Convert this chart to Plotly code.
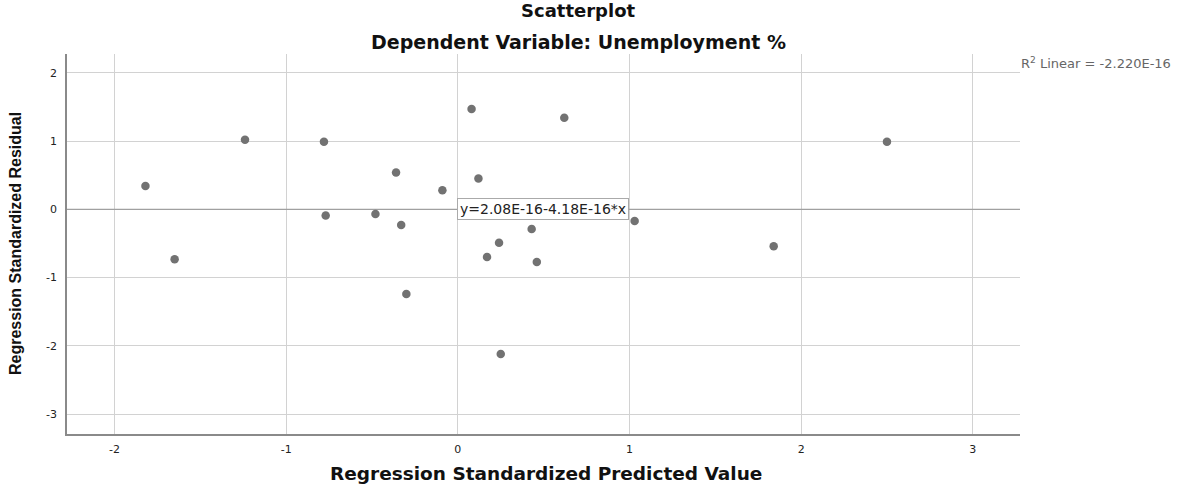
import plotly.graph_objects as go

# Regression standardized predicted values (x) and residuals (y)
predicted = [-1.82, -1.65, -1.24, -0.78, -0.77, -0.48, -0.36, -0.33, -0.30, -0.09,
             0.08, 0.12, 0.24, 0.17, 0.25, 0.43, 0.46, 0.62, 1.03, 1.84, 2.50]
residual = [0.34, -0.73, 1.02, 0.99, -0.09, -0.07, 0.54, -0.23, -1.24, 0.28,
            1.47, 0.45, -0.49, -0.70, -2.12, -0.29, -0.77, 1.34, -0.17, -0.54, 0.99]

fit_intercept = 2.08e-16
fit_slope = -4.18e-16
x_range = [-2.277, 3.275]
y_range = [-3.29, 2.274]
x_ticks = [-2, -1, 0, 1, 2, 3]
y_ticks = [-3, -2, -1, 0, 1, 2]

title1 = "Scatterplot"
title2 = "Dependent Variable: Unemployment %"
x_title = "Regression Standardized Predicted Value"
y_title = "Regression Standardized Residual"
eq_label = "y=2.08E-16-4.18E-16*x"
r2_label = "R<sup>2</sup> Linear = -2.220E-16"

fit_x = [x_range[0], x_range[1]]
fit_y = [fit_intercept + fit_slope * v for v in fit_x]

fig = go.Figure()
fig.add_trace(go.Scatter(x=fit_x, y=fit_y, mode="lines",
                         line=dict(color="#a0a0a0", width=1.3),
                         hoverinfo="skip", showlegend=False))
fig.add_trace(go.Scatter(x=predicted, y=residual, mode="markers",
                         marker=dict(color="#727272", size=8.5, line=dict(width=0)),
                         showlegend=False))

W, H = 1178, 488
ml, mr, mt, mb = 67, 158, 54, 54

fig.update_layout(
    width=W, height=H,
    margin=dict(l=ml, r=mr, t=mt, b=mb),
    plot_bgcolor="white", paper_bgcolor="white",
    font=dict(family="DejaVu Sans, Arial", color="#222222"),
    showlegend=False,
)
fig.update_xaxes(range=x_range, tickvals=x_ticks, ticktext=[str(v) for v in x_ticks],
                 showgrid=True, gridcolor="#d2d2d2", gridwidth=1.3,
                 zeroline=False, showline=True, linecolor="#8a8a8a", linewidth=1.5,
                 tickfont=dict(size=11, color="#222"), ticks="", ticklabelstandoff=4)
fig.update_yaxes(range=y_range, tickvals=y_ticks, ticktext=[str(v) for v in y_ticks],
                 showgrid=True, gridcolor="#d2d2d2", gridwidth=1.3,
                 zeroline=False, showline=True, linecolor="#8a8a8a", linewidth=1.5,
                 tickfont=dict(size=11, color="#222"), ticks="", ticklabelstandoff=6)

pw = W - ml - mr
ph = H - mt - mb

def px(xpix):
    return (xpix - ml) / pw

def py(ypix):
    return (H - mb - ypix) / ph

fig.add_annotation(text=f"<b>{title1}</b>", x=px(578), y=py(11), xref="paper", yref="paper",
                   showarrow=False, xanchor="center", yanchor="middle",
                   font=dict(family="DejaVu Sans", size=18, color="#111"))
fig.add_annotation(text=f"<b>{title2}</b>", x=px(578), y=py(42), xref="paper", yref="paper",
                   showarrow=False, xanchor="center", yanchor="middle",
                   font=dict(family="DejaVu Sans", size=19, color="#111"))
fig.add_annotation(text=f"<b>{x_title}</b>", x=px(546), y=py(474), xref="paper", yref="paper",
                   showarrow=False, xanchor="center", yanchor="middle",
                   font=dict(family="DejaVu Sans", size=18.5, color="#111"))
fig.add_annotation(text=f"<b>{y_title}</b>", x=px(15), y=py(244), xref="paper", yref="paper",
                   showarrow=False, xanchor="center", yanchor="middle", textangle=-90,
                   font=dict(family="Liberation Sans, Arial", size=16, color="#111"))
fig.add_annotation(text=r2_label, x=px(1019), y=py(63), xref="paper", yref="paper",
                   showarrow=False, xanchor="left", yanchor="middle",
                   font=dict(family="DejaVu Sans", size=13, color="#666"))
fig.add_annotation(text=eq_label, x=0.494, y=fit_intercept + fit_slope * 0.494,
                   xref="x", yref="y", showarrow=False, xanchor="center", yanchor="middle",
                   bgcolor="white", bordercolor="#aaaaaa", borderwidth=1, borderpad=2,
                   font=dict(family="DejaVu Sans", size=14, color="#222"))

# remove the default 8px page margin so the figure fills the window exactly
fig.write_html("out.html", config={"displayModeBar": False},
               post_script="document.body.style.margin='0';")
